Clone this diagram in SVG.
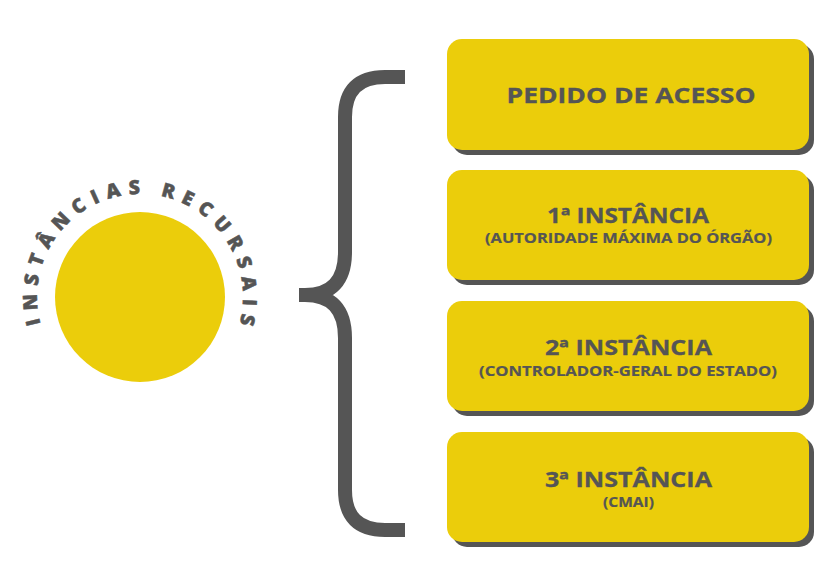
<svg xmlns="http://www.w3.org/2000/svg" width="827" height="579" viewBox="0 0 827 579">
  <style>
    .box { fill: #EBCD0B; }
    .shadow { fill: #555555; }
    .title { font-family: "Open Sans", "Liberation Sans", sans-serif; font-weight: 700; font-size: 21.5px; fill: #555555; stroke: #555555; stroke-width: 0.3; text-anchor: middle; }
    .sub { font-family: "Open Sans", "Liberation Sans", sans-serif; font-weight: 700; font-size: 14.5px; fill: #555555; stroke: #555555; stroke-width: 0.2; text-anchor: middle; }
    .arc { font-family: "Open Sans", "Liberation Sans", sans-serif; font-weight: 800; font-size: 19.5px; fill: #555555; stroke: #555555; stroke-width: 0.5; }
    .brace { fill: none; stroke: #555555; stroke-width: 14; stroke-linecap: butt; stroke-linejoin: round; }
  </style>
  <defs>
    <path id="arcPath" d="M 88.5 386.2 A 103 103 0 1 1 191.5 386.2"/>
  </defs>
  <rect width="827" height="579" fill="#FFFFFF"/>

  <g id="circle-node">
    <circle cx="140" cy="297" r="85" class="box"/>
    <text class="arc"><textPath href="#arcPath" startOffset="50%" text-anchor="middle" textLength="378" lengthAdjust="spacing">INSTÂNCIAS RECURSAIS</textPath></text>
  </g>

  <g id="connectors">
    <path class="brace" d="M 405 77 H 385 Q 345 77 345 117 V 252 Q 345 295 305 295 H 299 M 299 295 H 305 Q 345 295 345 338 V 490 Q 345 530 385 530 H 405"/>
  </g>

  <g id="pedido">
    <rect x="452" y="44" width="362" height="111" rx="15" class="shadow"/>
    <rect x="447" y="39" width="362" height="111" rx="15" class="box"/>
    <text x="631" y="103" class="title" textLength="249" lengthAdjust="spacingAndGlyphs">PEDIDO DE ACESSO</text>
  </g>

  <g id="instancia1">
    <rect x="452" y="175" width="362" height="110" rx="15" class="shadow"/>
    <rect x="447" y="170" width="362" height="110" rx="15" class="box"/>
    <text x="628" y="223" class="title" textLength="162" lengthAdjust="spacingAndGlyphs">1ª INSTÂNCIA</text>
    <text x="628.5" y="243" class="sub" textLength="287" lengthAdjust="spacingAndGlyphs">(AUTORIDADE MÁXIMA DO ÓRGÃO)</text>
  </g>

  <g id="instancia2">
    <rect x="452" y="306" width="362" height="110" rx="15" class="shadow"/>
    <rect x="447" y="301" width="362" height="110" rx="15" class="box"/>
    <text x="628.5" y="355" class="title" textLength="167" lengthAdjust="spacingAndGlyphs">2ª INSTÂNCIA</text>
    <text x="628" y="376" class="sub" textLength="298" lengthAdjust="spacingAndGlyphs">(CONTROLADOR-GERAL DO ESTADO)</text>
  </g>

  <g id="instancia3">
    <rect x="452" y="437" width="362" height="110" rx="15" class="shadow"/>
    <rect x="447" y="432" width="362" height="110" rx="15" class="box"/>
    <text x="628.5" y="487" class="title" textLength="167" lengthAdjust="spacingAndGlyphs">3ª INSTÂNCIA</text>
    <text x="628.5" y="507" class="sub" textLength="51" lengthAdjust="spacingAndGlyphs">(CMAI)</text>
  </g>
</svg>
